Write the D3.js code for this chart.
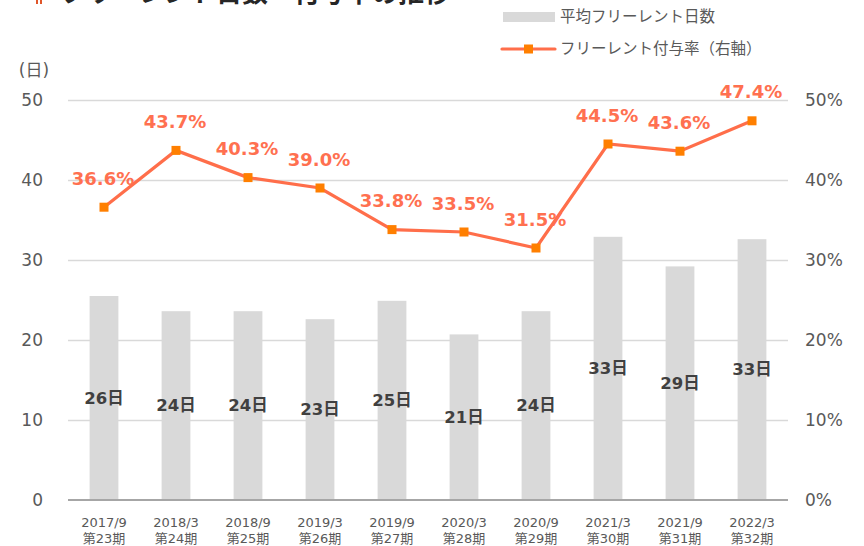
<!DOCTYPE html>
<html>
<head>
<meta charset="utf-8">
<script src="https://cdn.jsdelivr.net/npm/d3@7"></script>
<style>
  html, body { margin: 0; padding: 0; background: #fff; }
  svg { display: block; font-family: "DejaVu Sans", "Noto Sans CJK JP", sans-serif; }
</style>
</head>
<body>
<svg id="chart" width="864" height="546"></svg>
<script>
// Half-year periods
const periods = ["2017/9", "2018/3", "2018/9", "2019/3", "2019/9", "2020/3", "2020/9", "2021/3", "2021/9", "2022/3"];
const terms = ["第23期", "第24期", "第25期", "第26期", "第27期", "第28期", "第29期", "第30期", "第31期", "第32期"];
// Average free-rent days (bars, left axis)
const freeRentDays = [25.5, 23.6, 23.6, 22.6, 24.9, 20.7, 23.6, 32.9, 29.2, 32.6];
// Free-rent grant rate in % (line, right axis)
const grantRate = [36.6, 43.7, 40.3, 39.0, 33.8, 33.5, 31.5, 44.5, 43.6, 47.4];
// Axis ticks
const leftTicks = [0, 10, 20, 30, 40, 50];
const rightTicks = [0, 10, 20, 30, 40, 50];

const svg = d3.select("#chart");
const plot = { left: 68, right: 788, top: 100, bottom: 500 };

const x = d3.scaleBand().domain(periods).range([plot.left, plot.right]).paddingInner(0.6).paddingOuter(0.3);
const yL = d3.scaleLinear().domain([0, 50]).range([plot.bottom, plot.top]);
const yR = d3.scaleLinear().domain([0, 50]).range([plot.bottom, plot.top]);

// Title (runs off the top edge of the page)
svg.append("rect").attr("x", 36).attr("y", 0).attr("width", 2).attr("height", 4).attr("fill", "#e0562a");
svg.append("rect").attr("x", 40).attr("y", 0).attr("width", 2).attr("height", 4).attr("fill", "#e0562a");
svg.append("text").attr("x", 60).attr("y", 2).attr("font-size", 26).attr("font-weight", "bold")
  .attr("fill", "#262626").text("フリーレント日数・付与率の推移");

// Gridlines
const grid = d3.axisLeft(yL).tickValues(leftTicks.filter(d => d > 0)).tickSize(-(plot.right - plot.left)).tickFormat("");
svg.append("g").attr("transform", `translate(${plot.left},0)`).call(grid)
  .call(g => g.select(".domain").remove())
  .call(g => g.selectAll("line").attr("stroke", "#d9d9d9").attr("stroke-width", 1.5));

// Bars
svg.append("g").selectAll("rect").data(freeRentDays).join("rect")
  .attr("x", (d, i) => x(periods[i]))
  .attr("y", d => yL(d))
  .attr("width", x.bandwidth())
  .attr("height", d => yL(0) - yL(d))
  .attr("fill", "#d9d9d9");

// Baseline
svg.append("line").attr("x1", plot.left).attr("x2", plot.right)
  .attr("y1", yL(0)).attr("y2", yL(0)).attr("stroke", "#a6a6a6").attr("stroke-width", 2);

// Bar value labels (centred in the bar)
svg.append("g").selectAll("text").data(freeRentDays).join("text")
  .attr("x", (d, i) => x(periods[i]) + x.bandwidth() / 2)
  .attr("y", d => (yL(d) + yL(0)) / 2)
  .attr("text-anchor", "middle").attr("dominant-baseline", "central")
  .attr("font-size", 16.5).attr("font-weight", "bold").attr("fill", "#404040")
  .text(d => Math.round(d) + "日");

// Left axis
const leftAxis = d3.axisLeft(yL).tickValues(leftTicks).tickSize(0).tickPadding(0).tickFormat(d3.format("d"));
svg.append("g").attr("transform", `translate(43,0)`).call(leftAxis)
  .call(g => g.select(".domain").remove())
  .call(g => g.selectAll("text").attr("font-size", 17).attr("fill", "#595959")
    .attr("font-family", "'DejaVu Sans', 'Noto Sans CJK JP', sans-serif"));
svg.append("text").attr("x", 34).attr("y", 76).attr("text-anchor", "middle")
  .attr("font-size", 17).attr("fill", "#595959").text("(日)");

// Right axis
const rightAxis = d3.axisRight(yR).tickValues(rightTicks).tickSize(0).tickPadding(0).tickFormat(d => d + "%");
svg.append("g").attr("transform", `translate(805,0)`).call(rightAxis)
  .call(g => g.select(".domain").remove())
  .call(g => g.selectAll("text").attr("font-size", 17).attr("fill", "#595959")
    .attr("font-family", "'DejaVu Sans', 'Noto Sans CJK JP', sans-serif"));

// Category labels
const xl = svg.append("g").selectAll("g").data(periods).join("g")
  .attr("transform", d => `translate(${x(d) + x.bandwidth() / 2},0)`);
xl.append("text").attr("y", 527).attr("text-anchor", "middle")
  .attr("font-size", 13).attr("fill", "#595959").text(d => d);
xl.append("text").attr("y", 543).attr("text-anchor", "middle")
  .attr("font-size", 13).attr("fill", "#595959").text((d, i) => terms[i]);

// Grant-rate line
const cx = i => x(periods[i]) + x.bandwidth() / 2;
const line = d3.line().x((d, i) => cx(i)).y(d => yR(d));
svg.append("path").datum(grantRate).attr("d", line)
  .attr("fill", "none").attr("stroke", "#ff6e4a").attr("stroke-width", 3.2);
svg.append("g").selectAll("rect").data(grantRate).join("rect")
  .attr("x", (d, i) => cx(i) - 4.5).attr("y", d => yR(d) - 4.5)
  .attr("width", 9).attr("height", 9).attr("fill", "#ff7f00");
svg.append("g").selectAll("text").data(grantRate).join("text")
  .attr("x", (d, i) => cx(i) - 1)
  .attr("y", d => yR(d) - 29)
  .attr("text-anchor", "middle").attr("dominant-baseline", "central")
  .attr("font-size", 18).attr("font-weight", "bold").attr("fill", "#ff7050")
  .text(d => d.toFixed(1) + "%");

// Legend
svg.append("rect").attr("x", 503).attr("y", 12).attr("width", 52).attr("height", 10).attr("fill", "#d9d9d9");
svg.append("text").attr("x", 560).attr("y", 17).attr("dominant-baseline", "central")
  .attr("font-size", 15.5).attr("fill", "#595959").text("平均フリーレント日数");
svg.append("line").attr("x1", 502).attr("x2", 555).attr("y1", 49).attr("y2", 49)
  .attr("stroke", "#ff6e4a").attr("stroke-width", 3.2).attr("stroke-linecap", "round");
svg.append("rect").attr("x", 524).attr("y", 44.5).attr("width", 9).attr("height", 9).attr("fill", "#ff7f00");
svg.append("text").attr("x", 560).attr("y", 49).attr("dominant-baseline", "central")
  .attr("font-size", 15.5).attr("fill", "#595959").text("フリーレント付与率（右軸）");
</script>
</body>
</html>
